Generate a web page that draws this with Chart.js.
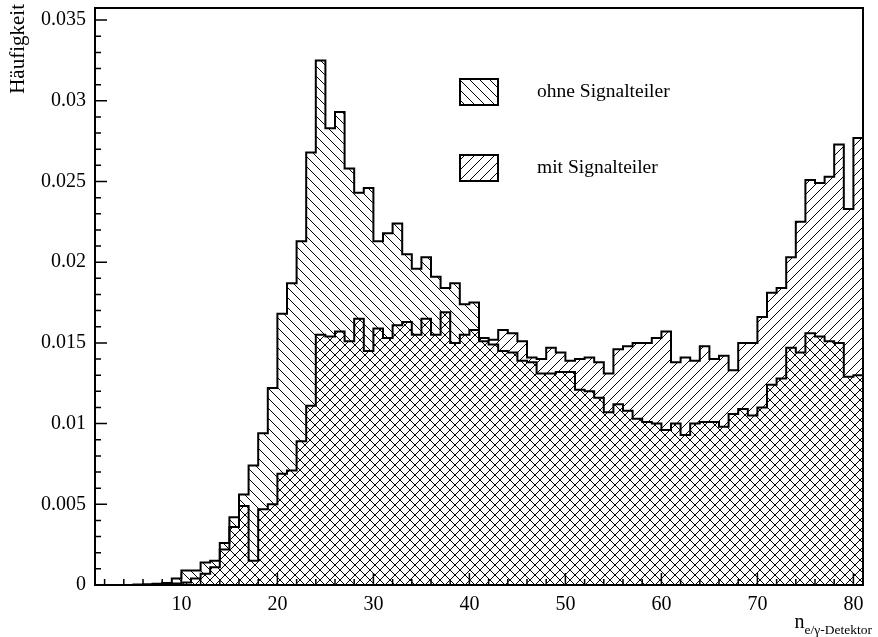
<!DOCTYPE html>
<html>
<head>
<meta charset="utf-8">
<script src="https://cdn.jsdelivr.net/npm/chart.js@4.4.1/dist/chart.umd.min.js"></script>
<style>
  html, body { margin: 0; padding: 0; background: #fff; }
  #wrap { width: 878px; height: 637px; }
</style>
</head>
<body>
<div id="wrap"><canvas id="histChart" width="878" height="637"></canvas></div>
<script>
// 80 histogram bins of width 1, from 1 to 81 (lower edges)
const binLowEdges = Array.from({ length: 80 }, (_, i) => i + 1);

const ohneSignalteiler = [
  0, 0, 0, 0, 0.00003, 0.00005, 0.00008, 0.00012, 0.0004, 0.0009,
  0.0009, 0.0014, 0.0015, 0.0026, 0.0042, 0.0056, 0.0074, 0.0094, 0.0122, 0.0168,
  0.0187, 0.0213, 0.0268, 0.0325, 0.0283, 0.0293, 0.0258, 0.0243, 0.0246, 0.0213,
  0.0218, 0.0224, 0.0205, 0.0196, 0.0203, 0.0191, 0.0184, 0.0187, 0.0174, 0.0175,
  0.0151, 0.0149, 0.0145, 0.0144, 0.0139, 0.0138, 0.0131, 0.0131, 0.0132, 0.0132,
  0.0121, 0.0120, 0.0116, 0.0107, 0.0112, 0.0108, 0.0103, 0.0101, 0.0100, 0.0096,
  0.0100, 0.0093, 0.0100, 0.0101, 0.0101, 0.0098, 0.0106, 0.0109, 0.0105, 0.0110,
  0.0124, 0.0128, 0.0147, 0.0144, 0.0156, 0.0154, 0.0151, 0.0150, 0.0129, 0.0130
];

const mitSignalteiler = [
  0, 0, 0, 0, 0, 0, 0.00005, 0.0001, 0.0001, 0.00015,
  0.0004, 0.0007, 0.0011, 0.0022, 0.0036, 0.0049, 0.0015, 0.0047, 0.0050, 0.0069,
  0.0071, 0.0089, 0.0111, 0.0155, 0.0154, 0.0157, 0.0151, 0.0165, 0.0145, 0.0159,
  0.0153, 0.0161, 0.0163, 0.0155, 0.0165, 0.0155, 0.0169, 0.0150, 0.0155, 0.0158,
  0.0153, 0.0152, 0.0158, 0.0156, 0.0151, 0.0141, 0.0140, 0.0147, 0.0144, 0.0139,
  0.0140, 0.0141, 0.0138, 0.0131, 0.0146, 0.0148, 0.0150, 0.0150, 0.0153, 0.0157,
  0.0138, 0.0141, 0.0139, 0.0148, 0.0140, 0.0142, 0.0133, 0.0150, 0.0150, 0.0166,
  0.0181, 0.0184, 0.0203, 0.0225, 0.0251, 0.0249, 0.0253, 0.0273, 0.0233, 0.0277
];

const seriesLabels = ['ohne Signalteiler', 'mit Signalteiler'];
const xTickValues = [10, 20, 30, 40, 50, 60, 70, 80];
const yTickValues = [0, 0.005, 0.01, 0.015, 0.02, 0.025, 0.03, 0.035];

const serif = '"Liberation Serif", "DejaVu Serif", serif';

// one point on the lower edge of each bin, plus the upper edge of the last one
function stepPoints(values) {
  const pts = values.map((v, i) => ({ x: binLowEdges[i], y: v }));
  pts.push({ x: binLowEdges[binLowEdges.length - 1] + 1, y: values[values.length - 1] });
  return pts;
}

function hatch(dir, size) {
  const c = document.createElement('canvas');
  c.width = size;
  c.height = size;
  const g = c.getContext('2d');
  g.strokeStyle = '#000';
  g.lineWidth = 1;
  g.beginPath();
  if (dir === 'back') {
    g.moveTo(-1, -1); g.lineTo(size + 1, size + 1);
    g.moveTo(-1, size - 1); g.lineTo(1, size + 1);
    g.moveTo(size - 1, -1); g.lineTo(size + 1, 1);
  } else {
    g.moveTo(-1, size + 1); g.lineTo(size + 1, -1);
    g.moveTo(-1, 1); g.lineTo(1, -1);
    g.moveTo(size - 1, size + 1); g.lineTo(size + 1, size - 1);
  }
  g.stroke();
  return g.createPattern(c, 'repeat');
}

const ohneFill = hatch('back', 10);
const mitFill = hatch('fwd', 10);

// frame, inward tick marks, legend and axis titles
const decorations = {
  id: 'decorations',
  afterDatasetsDraw(chart) {
    const { ctx, chartArea: a, scales: { x, y } } = chart;
    ctx.save();
    ctx.strokeStyle = '#000';
    ctx.lineWidth = 1.5;
    ctx.beginPath();
    for (let i = 0; i / 1000 <= y.max; i++) {
      const py = y.getPixelForValue(i / 1000);
      ctx.moveTo(a.left, py);
      ctx.lineTo(a.left + (i % 5 === 0 ? 12 : 6), py);
    }
    for (let i = 2; i <= 80; i += 2) {
      const px = x.getPixelForValue(i);
      ctx.moveTo(px, a.bottom);
      ctx.lineTo(px, a.bottom - (i % 10 === 0 ? 12 : 6));
    }
    ctx.stroke();
    ctx.lineWidth = 2;
    ctx.strokeRect(a.left, a.top, a.right - a.left, a.bottom - a.top);

    // legend
    const fills = [ohneFill, mitFill];
    const rows = [92, 168];
    chart.data.datasets.forEach((ds, i) => {
      ctx.fillStyle = fills[i];
      ctx.fillRect(460, rows[i] - 13, 38, 26);
      ctx.lineWidth = 2;
      ctx.strokeRect(460, rows[i] - 13, 38, 26);
      ctx.fillStyle = '#000';
      ctx.font = '19.5px ' + serif;
      ctx.textAlign = 'left';
      ctx.textBaseline = 'middle';
      ctx.fillText(ds.label, 537, rows[i]);
    });

    // y title
    ctx.save();
    ctx.translate(18, 4);
    ctx.rotate(-Math.PI / 2);
    ctx.font = '21px ' + serif;
    ctx.textAlign = 'right';
    ctx.textBaseline = 'middle';
    ctx.fillText('Häufigkeit', 0, 0);
    ctx.restore();

    // x title with subscript
    ctx.textAlign = 'left';
    ctx.textBaseline = 'alphabetic';
    ctx.font = '13.5px ' + serif;
    const sub = 'e/γ-Detektor';
    const subW = ctx.measureText(sub).width;
    ctx.fillText(sub, 872 - subW, 634);
    ctx.font = '20px ' + serif;
    const nW = ctx.measureText('n').width;
    ctx.fillText('n', 872 - subW - nW, 628);
    ctx.restore();
  }
};

new Chart(document.getElementById('histChart'), {
  type: 'line',
  data: {
    datasets: [
      {
        label: seriesLabels[0],
        data: stepPoints(ohneSignalteiler),
        stepped: true,
        fill: 'origin',
        backgroundColor: ohneFill,
        borderColor: '#000',
        borderWidth: 2,
        pointRadius: 0
      },
      {
        label: seriesLabels[1],
        data: stepPoints(mitSignalteiler),
        stepped: true,
        fill: 'origin',
        backgroundColor: mitFill,
        borderColor: '#000',
        borderWidth: 2,
        pointRadius: 0
      }
    ]
  },
  options: {
    responsive: false,
    animation: false,
    layout: { padding: { top: 8, right: 15, left: 0, bottom: 0 } },
    plugins: { legend: { display: false }, tooltip: { enabled: false } },
    scales: {
      x: {
        type: 'linear',
        min: 1,
        max: 81,
        grid: { display: false, drawTicks: false },
        border: { display: false },
        afterBuildTicks: s => { s.ticks = xTickValues.map(v => ({ value: v })); },
        afterFit: s => { s.height = 52; s.paddingLeft = 0; s.paddingRight = 0; },
        ticks: {
          padding: 8,
          color: '#000',
          autoSkip: false,
          maxRotation: 0,
          font: { family: serif, size: 20 },
          callback: v => String(v)
        }
      },
      y: {
        type: 'linear',
        min: 0,
        max: 0.03575,
        grid: { display: false, drawTicks: false },
        border: { display: false },
        afterBuildTicks: s => { s.ticks = yTickValues.map(v => ({ value: v })); },
        afterFit: s => { s.width = 95; s.paddingTop = 0; s.paddingBottom = 0; },
        ticks: {
          padding: 9,
          color: '#000',
          autoSkip: false,
          font: { family: serif, size: 20 },
          callback: v => String(v)
        }
      }
    }
  },
  plugins: [decorations]
});
</script>
</body>
</html>
